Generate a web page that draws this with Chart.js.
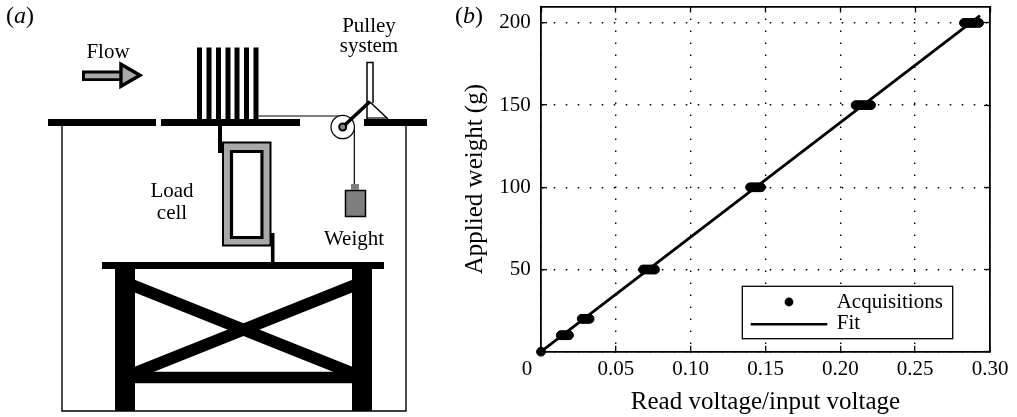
<!DOCTYPE html>
<html>
<head>
    <meta charset="utf-8">
    <title>Load cell calibration</title>
    <script src="https://cdn.jsdelivr.net/npm/chart.js"></script>
    <style>
        body { margin: 0; background: #fff; }
        canvas { position: absolute; top: 0; }
        #sketch { left: 0; }
        #calib { left: 440px; }
    </style>
</head>
<body>
    <canvas id="sketch" width="440" height="417"></canvas>
    <canvas id="calib" width="577" height="417"></canvas>
    <script>
        // panel (b) values
        const xTicks = [0, 0.05, 0.10, 0.15, 0.20, 0.25, 0.30];
        const xTickLabels = ['', '0.05', '0.10', '0.15', '0.20', '0.25', '0.30'];
        const yTicks = [0, 50, 100, 150, 200];
        const yTickLabels = ['', '50', '100', '150', '200'];
        const acqVoltage = [0, 0.0132, 0.0141, 0.0150, 0.0162, 0.0170, 0.0187,
            0.0272, 0.0281, 0.0290, 0.0303, 0.0314, 0.0325,
            0.0682, 0.0691, 0.0705, 0.0718, 0.0729, 0.0741, 0.0752, 0.0762,
            0.1397, 0.1408, 0.1421, 0.1433, 0.1446, 0.1458, 0.1470,
            0.2102, 0.2116, 0.2131, 0.2147, 0.2160, 0.2176, 0.2190, 0.2205,
            0.2826, 0.2838, 0.2851, 0.2866, 0.2880, 0.2893, 0.2908, 0.2927];
        const acqWeight = [0, 10, 10, 10, 10, 10, 10,
            20, 20, 20, 20, 20, 20,
            50, 50, 50, 50, 50, 50, 50, 50,
            100, 100, 100, 100, 100, 100, 100,
            150, 150, 150, 150, 150, 150, 150, 150,
            200, 200, 200, 200, 200, 200, 200, 200];
        const fitVoltage = [0, 0.2933];
        const fitWeight = [0, 204.5];
        const legendNames = ['Acquisitions', 'Fit'];

        // panel (a) outlines, in diagram units
        const deckParts = [[[48, 122.5], [156, 122.5]], [[161, 122.5], [300, 122.5]], [[364, 122.5], [427, 122.5]]];
        const fins = [199.5, 209, 218.5, 228, 237, 246.5, 256];
        const tank = [[62, 126], [62, 411], [406, 411], [406, 126]];
        const tableTop = [[102, 265.5], [384, 265.5]];
        const legs = [[[125, 269], [125, 411]], [[362, 269], [362, 411]]];
        const beam = [[135, 377.5], [352, 377.5]];
        const braces = [[[125, 282.3], [362, 377]], [[362, 282.3], [125, 377]]];
        const stemTop = [[220, 126], [220, 153]];
        const stemBottom = [[272.7, 233], [272.7, 262]];
        const cellOuter = [[223, 142.5], [270.5, 142.5], [270.5, 245.5], [223, 245.5], [223, 142.5], [270.5, 142.5]];
        const cellBand = [[226.5, 146.5], [267, 146.5], [267, 242], [226.5, 242], [226.5, 146.5], [267, 146.5]];
        const cellInner = [[231.5, 151.5], [262, 151.5], [262, 237.5], [231.5, 237.5], [231.5, 151.5], [262, 151.5]];
        const cable = [[258.5, 116], [343, 116]];
        const hanger = [[354.3, 127], [354.3, 184]];
        const pulley = [[342.7, 127]];
        const arm = [[342.7, 127], [370, 101.5]];
        const post = [[367, 119], [367, 62.5], [373, 62.5], [373, 103]];
        const strut = [[370, 102], [388, 119]];
        const strutBase = [[367, 118], [386, 118]];
        const weightBody = [[345.5, 203.7], [365.5, 203.7]];
        const weightFrame = [[345.5, 190.5], [365.5, 190.5], [365.5, 216.5], [345.5, 216.5], [345.5, 190.5], [365.5, 190.5]];
        const weightCap = [[351, 187], [359, 187]];
        const arrowShaft = [[82, 75.8], [121, 75.8]];
        const arrowCore = [[85, 75.8], [121, 75.8]];
        const arrowHead = [[127.3, 75.3]];

        const sketchLabels = [
            { text: 'Flow', x: 108, y: 52 },
            { text: 'Load', x: 172, y: 191 },
            { text: 'cell', x: 172, y: 213 },
            { text: 'Weight', x: 354, y: 239 },
            { text: 'Pulley', x: 369, y: 26 },
            { text: 'system', x: 369, y: 46 }
        ];

        const SERIF = '"Liberation Serif", "Times New Roman", serif';
        const BLACK = '#000';
        const GREY = '#a9a9a9';

        function pts(list) {
            return list.map(p => ({ x: p[0], y: p[1] }));
        }
        function stroke(list, width, color) {
            return {
                data: pts(list), showLine: true, borderWidth: width, borderColor: color || BLACK,
                pointRadius: 0, borderCapStyle: 'butt', borderJoinStyle: 'miter', tension: 0, clip: false
            };
        }
        function dot(list, radius, fill, width) {
            return {
                data: pts(list), showLine: false, pointRadius: radius, pointHoverRadius: radius,
                pointBackgroundColor: fill, pointBorderColor: BLACK, pointBorderWidth: width, clip: false
            };
        }

        // paint order here is back to front, chart.js wants the opposite
        const sketchSets = [
            stroke(tank, 1.4),
            stroke(tableTop, 7),
            ...legs.map(l => stroke(l, 20)),
            stroke(beam, 11.5),
            ...braces.map(b => stroke(b, 11.8)),
            stroke(stemTop, 4),
            stroke(stemBottom, 3.6),
            ...deckParts.map(d => stroke(d, 7)),
            ...fins.map(x => stroke([[x, 47.5], [x, 119]], 5)),
            stroke(cellBand, 7, GREY),
            stroke(cellOuter, 2),
            stroke(cellInner, 3.2),
            stroke(cable, 1.2),
            stroke(hanger, 1.2),
            dot(pulley, 11.7, '#fff', 1.2),
            stroke(post, 1.5),
            stroke(strut, 1.5),
            stroke(strutBase, 1.2),
            stroke(arm, 3.6),
            dot(pulley, 3.5, '#888', 2),
            stroke(weightBody, 26, '#7f7f7f'),
            stroke(weightFrame, 1.5),
            stroke(weightCap, 6, '#7f7f7f'),
            stroke(arrowShaft, 10.5, BLACK),
            stroke(arrowCore, 4.8, GREY),
            Object.assign(dot(arrowHead, 12.7, GREY, 3.4), { pointStyle: 'triangle', pointRotation: 90 })
        ].reverse();

        function panelLetter(ctx, letter, x, y) {
            ctx.save();
            ctx.fillStyle = BLACK;
            ctx.textBaseline = 'middle';
            ctx.textAlign = 'left';
            ctx.font = '24px ' + SERIF;
            ctx.fillText('(', x, y);
            x += ctx.measureText('(').width;
            ctx.font = 'italic 24px ' + SERIF;
            ctx.fillText(letter, x, y);
            x += ctx.measureText(letter).width;
            ctx.font = '24px ' + SERIF;
            ctx.fillText(')', x, y);
            ctx.restore();
        }

        const sketchText = {
            id: 'sketchText',
            afterDatasetsDraw(chart) {
                const ctx = chart.ctx;
                ctx.save();
                ctx.fillStyle = BLACK;
                ctx.font = '21px ' + SERIF;
                ctx.textAlign = 'center';
                ctx.textBaseline = 'middle';
                sketchLabels.forEach(l => {
                    ctx.fillText(l.text, chart.scales.x.getPixelForValue(l.x), chart.scales.y.getPixelForValue(l.y));
                });
                ctx.restore();
                panelLetter(ctx, 'a', 6, 17);
            }
        };

        new Chart(document.getElementById('sketch').getContext('2d'), {
            type: 'scatter',
            data: { datasets: sketchSets },
            options: {
                responsive: false,
                animation: false,
                events: [],
                layout: { padding: 0, autoPadding: false },
                plugins: { legend: { display: false }, tooltip: { enabled: false } },
                scales: {
                    x: { type: 'linear', display: false, min: 0, max: 440 },
                    y: { type: 'linear', display: false, min: 0, max: 417, reverse: true }
                }
            },
            plugins: [sketchText]
        });

        // legend box, origin "0" label and the (b) letter
        const calibExtras = {
            id: 'calibExtras',
            afterDatasetsDraw(chart) {
                const ctx = chart.ctx;
                const bx = 302.3, by = 286.3, bw = 210.4, bh = 52.4;
                ctx.save();
                ctx.fillStyle = '#fff';
                ctx.strokeStyle = BLACK;
                ctx.lineWidth = 1.3;
                ctx.fillRect(bx, by, bw, bh);
                ctx.strokeRect(bx, by, bw, bh);
                ctx.fillStyle = BLACK;
                ctx.beginPath();
                ctx.arc(349, 302, 4.4, 0, Math.PI * 2);
                ctx.fill();
                ctx.lineWidth = 2.6;
                ctx.beginPath();
                ctx.moveTo(310.7, 324.3);
                ctx.lineTo(387.3, 324.3);
                ctx.stroke();
                ctx.font = '21px ' + SERIF;
                ctx.textAlign = 'left';
                ctx.textBaseline = 'middle';
                ctx.fillText(legendNames[0], 396.7, 302);
                ctx.fillText(legendNames[1], 396.7, 323);
                ctx.textAlign = 'center';
                ctx.fillText('0', chart.scales.x.getPixelForValue(0) - 14, 369);
                ctx.restore();
                panelLetter(ctx, 'b', 15, 17);
            }
        };

        function axisFont() {
            return { family: SERIF, size: 21 };
        }
        function noMargins(s) {
            s.paddingTop = 0;
            s.paddingBottom = 0;
            s.paddingLeft = 0;
            s.paddingRight = 0;
        }

        new Chart(document.getElementById('calib').getContext('2d'), {
            type: 'scatter',
            data: {
                datasets: [
                    {
                        label: legendNames[0],
                        data: acqVoltage.map((v, i) => ({ x: v, y: acqWeight[i] })),
                        pointRadius: 4.4,
                        pointHoverRadius: 4.4,
                        pointBackgroundColor: BLACK,
                        pointBorderColor: BLACK,
                        showLine: false,
                        clip: false
                    },
                    {
                        label: legendNames[1],
                        data: fitVoltage.map((v, i) => ({ x: v, y: fitWeight[i] })),
                        showLine: true,
                        borderColor: BLACK,
                        borderWidth: 2.8,
                        pointRadius: 0,
                        clip: false
                    }
                ]
            },
            options: {
                responsive: false,
                animation: false,
                events: [],
                layout: { padding: { top: 6.5, right: 27, left: 0, bottom: 0 }, autoPadding: false },
                plugins: { legend: { display: false }, tooltip: { enabled: false } },
                scales: {
                    x: {
                        type: 'linear', position: 'bottom', min: 0, max: 0.30,
                        afterBuildTicks: s => { s.ticks = xTicks.map(v => ({ value: v })); },
                        afterFit: s => { s.height = 65.3; noMargins(s); },
                        ticks: {
                            callback: (v, i) => xTickLabels[i], maxRotation: 0, autoSkip: false,
                            color: BLACK, font: axisFont(), padding: 10.7
                        },
                        grid: { color: BLACK, lineWidth: 1.4, tickLength: -6, tickColor: BLACK, tickWidth: 1.3 },
                        border: { color: BLACK, width: 1.8, dash: [1.5, 10.5] },
                        title: { display: true, text: 'Read voltage/input voltage', color: BLACK, font: { family: SERIF, size: 25 }, padding: 0 }
                    },
                    y: {
                        type: 'linear', position: 'left', min: 0, max: 210,
                        afterBuildTicks: s => { s.ticks = yTicks.map(v => ({ value: v })); },
                        afterFit: s => { s.width = 101; noMargins(s); },
                        ticks: {
                            callback: (v, i) => yTickLabels[i], autoSkip: false,
                            color: BLACK, font: axisFont(), padding: 16.3
                        },
                        grid: { color: BLACK, lineWidth: 1.4, tickLength: -6, tickColor: BLACK, tickWidth: 1.3 },
                        border: { color: BLACK, width: 1.8, dash: [1.5, 10.5] },
                        title: { display: true, text: 'Applied weight (g)', color: BLACK, font: { family: SERIF, size: 25 }, padding: { top: 20, bottom: 0 } }
                    },
                    xTop: {
                        type: 'linear', position: 'top', min: 0, max: 0.30,
                        afterBuildTicks: s => { s.ticks = xTicks.map(v => ({ value: v })); },
                        afterFit: s => { s.height = 0; noMargins(s); },
                        ticks: { display: false },
                        grid: { drawOnChartArea: false, tickLength: -6, tickColor: BLACK, tickWidth: 1.3 },
                        border: { color: BLACK, width: 1.8 }
                    },
                    yRight: {
                        type: 'linear', position: 'right', min: 0, max: 210,
                        afterBuildTicks: s => { s.ticks = yTicks.map(v => ({ value: v })); },
                        afterFit: s => { s.width = 0; noMargins(s); },
                        ticks: { display: false },
                        grid: { drawOnChartArea: false, tickLength: -6, tickColor: BLACK, tickWidth: 1.3 },
                        border: { color: BLACK, width: 1.8 }
                    }
                }
            },
            plugins: [calibExtras]
        });
    </script>
</body>
</html>
